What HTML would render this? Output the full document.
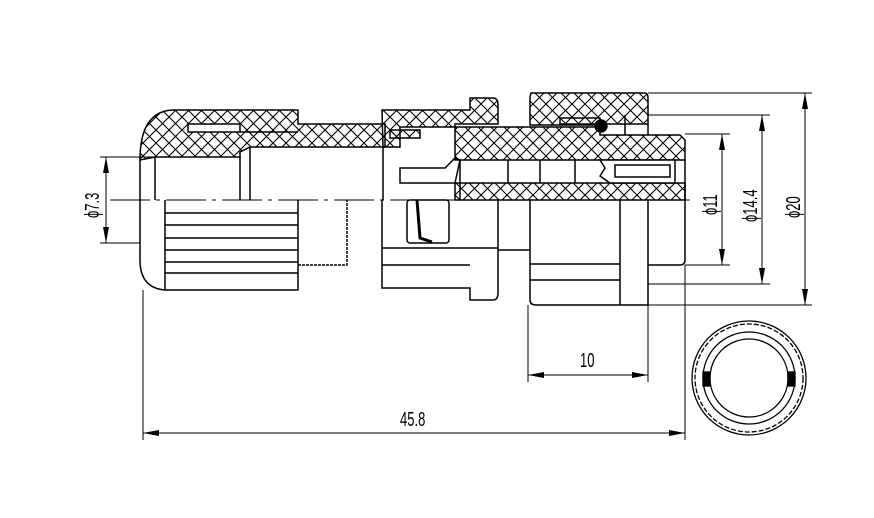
<!DOCTYPE html>
<html><head><meta charset="utf-8"><style>
html,body{margin:0;padding:0;background:#fff;width:874px;height:518px;overflow:hidden}
text{font-family:"Liberation Sans",sans-serif;font-size:20px;fill:#000}
</style></head><body>
<svg width="874" height="518" viewBox="0 0 874 518" xmlns="http://www.w3.org/2000/svg">
<defs>
<pattern id="h" width="13" height="13" patternUnits="userSpaceOnUse">
<path d="M0 0L13 13M13 0L0 13" stroke="#000" stroke-width="1.1"/>
</pattern>
<marker id="a" markerWidth="16" markerHeight="8" refX="16" refY="4" orient="auto" markerUnits="userSpaceOnUse"><path d="M0 1L16 4L0 7Z" fill="#000"/></marker>
</defs>
<g fill="none" stroke="#000" stroke-width="1.5">
<path d="M140 160 Q140 112 172 110 L298 110 L298 124 L385 124 L385 147 L250 147 L240 152 L240 157 L155 157 L140 160 Z" fill="url(#h)"/>
<rect x="188" y="124" width="52" height="8" fill="#fff"/>
<path d="M240 132 L298 132" />
<path d="M140 160 L140 260 Q140 288 165 290 L298 290 L298 200"/>
<path d="M155 157 L155 200 M240 157 L240 200 M250 147 L250 200 M383 147 L383 200"/>
<path d="M165 200 L165 290"/>
<path d="M165 213 L298 213 M165 225 L298 225 M165 238 L298 238 M165 250 L298 250 M165 262 L298 262 M165 273 L298 273"/>
<path d="M298 265 L347 265 L347 200" stroke-dasharray="3 1"/>
<path d="M382 110 L470 110 L470 98 L493 98 Q498 98 498 105 L498 124 L455 124 L455 127 L400 127 L400 147 L383 147 L382 110Z" fill="url(#h)"/>
<rect x="390" y="130" width="30" height="8" fill="url(#h)"/>
<path d="M382 200 L382 288 L470 288 L470 300 L493 300 Q498 300 498 293 L498 200"/>
<path d="M382 248 L498 248 M382 265 L470 265"/>
<rect x="407" y="200" width="42" height="43" rx="3"/>
<path d="M417 200 L420 238 L432 242" stroke-width="3"/>
<path d="M400 168 L445 168 L455 158 L460 160 L455 183 L400 183 Z" fill="#fff"/>
<path d="M455 127 L600 127 L600 135 L680 135 L685 140 L685 160 L455 160 Z" fill="url(#h)"/>
<path d="M455 183 L685 183 L685 200 L455 200 Z" fill="url(#h)"/>
<path d="M460 160 L460 200 M508 160 L508 183 M540 160 L540 183 M575 160 L575 183"/>
<path d="M600 160 L605 168 L600 176 L610 183 L675 183 L675 160 Z" fill="#fff"/>
<rect x="615" y="165" width="55" height="12"/>
<path d="M531 93 L645 93 Q648 93 648 98 L648 124 L560 124 L560 118 L600 118 L600 125 L530 125 L530 97 Z" fill="url(#h)"/>
<circle cx="601" cy="126" r="6" fill="#000"/>
<path d="M648 124 L648 135 M625 115 L625 135"/>
<path d="M685 160 L685 260 Q685 265 680 265 L648 265"/>
<path d="M530 200 L530 300 Q530 305 536 305 L648 305 L648 200"/>
<path d="M530 264 L620 264 M530 280 L620 280 M620 200 L620 305"/>
<path d="M498 250 L530 250"/>
</g>
<path d="M110 200 L690 200" stroke="#000" stroke-width="1" stroke-dasharray="40 6 4 6"/>
<g stroke="#000" stroke-width="1" fill="none">
<path d="M648 93 L812 93 M648 115 L770 115 M685 134 L730 134 M685 265 L730 265 M648 284 L770 284 M648 305 L812 305"/>
<path d="M805 200 L805 93" marker-end="url(#a)"/><path d="M805 200 L805 305" marker-end="url(#a)"/>
<path d="M762 200 L762 115" marker-end="url(#a)"/><path d="M762 200 L762 284" marker-end="url(#a)"/>
<path d="M722 200 L722 134" marker-end="url(#a)"/><path d="M722 200 L722 265" marker-end="url(#a)"/>
<path d="M100 157 L155 157 M100 243 L140 243"/>
<path d="M106 200 L106 157" marker-end="url(#a)"/><path d="M106 200 L106 243" marker-end="url(#a)"/>
<path d="M528 305 L528 382 M648 305 L648 382"/>
<path d="M588 375 L528 375" marker-end="url(#a)"/><path d="M588 375 L648 375" marker-end="url(#a)"/>
<path d="M143 290 L143 440 M685 265 L685 440"/>
<path d="M414 433 L143 433" marker-end="url(#a)"/><path d="M414 433 L685 433" marker-end="url(#a)"/>
</g>
<text transform="translate(580,367) scale(0.65,1)">10</text>
<text transform="translate(400,426) scale(0.65,1)">45.8</text>
<text transform="translate(99,218) rotate(-90) scale(0.65,1)">ϕ7.3</text>
<text transform="translate(717,215) rotate(-90) scale(0.65,1)">ϕ11</text>
<text transform="translate(757,222) rotate(-90) scale(0.65,1)">ϕ14.4</text>
<text transform="translate(800,218) rotate(-90) scale(0.65,1)">ϕ20</text>
<g fill="none" stroke="#000" stroke-width="1.3">
<circle cx="749" cy="378" r="57"/>
<circle cx="749" cy="378" r="54" stroke-dasharray="5 2"/>
<circle cx="749" cy="378" r="46"/>
<circle cx="749" cy="378" r="39"/>
<rect x="703" y="372" width="7" height="14" fill="#000"/>
<rect x="788" y="372" width="7" height="14" fill="#000"/>
</g>
</svg>
</body></html>
